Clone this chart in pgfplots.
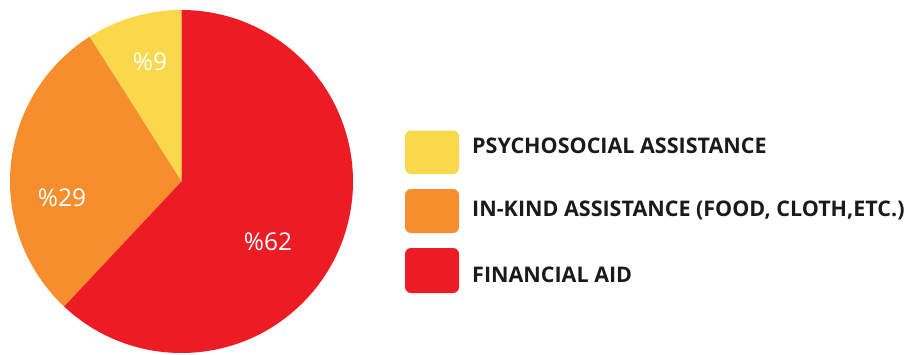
\documentclass[border=0pt]{standalone}
\usepackage{pgfplots}
\pgfplotsset{compat=1.18}
\usepackage{fontspec}
\setmainfont{Open Sans}
\definecolor{cYel}{HTML}{F9D94A}
\definecolor{cOra}{HTML}{F68E2D}
\definecolor{cRed}{HTML}{ED1C24}
\definecolor{cTxt}{HTML}{1A1A1A}
% shares (percent)
\def\vPsy{9}
\def\vKind{29}
\def\vFin{62}
\begin{document}
\begin{tikzpicture}
\useasboundingbox (0,0) rectangle (909pt,354pt);
\begin{axis}[
  at={(0,0)}, anchor=south west,
  width=909pt, height=354pt, scale only axis,
  xmin=0, xmax=909, ymin=0, ymax=354,
  hide axis, clip=false,
]
\pgfmathsetmacro{\aA}{90}
\pgfmathsetmacro{\aB}{90+3.6*\vPsy}
\pgfmathsetmacro{\aC}{\aB+3.6*\vKind}
\pgfmathsetmacro{\aD}{\aC+3.6*\vFin}
\fill[cYel] (axis cs:181.5,172.5) -- ++(\aA:171.5pt) arc[start angle=\aA, end angle=\aB, radius=171.5pt] -- cycle;
\fill[cOra] (axis cs:181.5,172.5) -- ++(\aB:171.5pt) arc[start angle=\aB, end angle=\aC, radius=171.5pt] -- cycle;
\fill[cRed] (axis cs:181.5,172.5) -- ++(\aC:171.5pt) arc[start angle=\aC, end angle=\aD, radius=171.5pt] -- cycle;
\node[white, font=\fontsize{24.5}{26}\selectfont] at (axis cs:150,292) {\%\vPsy};
\node[white, font=\fontsize{24.5}{26}\selectfont] at (axis cs:62,156) {\%\vKind};
\node[white, font=\fontsize{24.5}{26}\selectfont] at (axis cs:268,112) {\%\vFin};
% legend
\fill[cYel, rounded corners=6pt] (axis cs:405,180) rectangle (axis cs:459,223.5);
\fill[cOra, rounded corners=6pt] (axis cs:405,121) rectangle (axis cs:459,165);
\fill[cRed, rounded corners=6pt] (axis cs:405,61) rectangle (axis cs:459,106);
\node[anchor=west, inner sep=0pt, text=cTxt, font=\bfseries\fontsize{21.5}{23}\selectfont] at (axis cs:472,208) {PSYCHOSOCIAL ASSISTANCE};
\node[anchor=west, inner sep=0pt, text=cTxt, font=\bfseries\fontsize{21.5}{23}\selectfont] at (axis cs:472,144) {IN-KIND ASSISTANCE (FOOD, CLOTH,ETC.)};
\node[anchor=west, inner sep=0pt, text=cTxt, font=\bfseries\fontsize{21.5}{23}\selectfont] at (axis cs:472,79.5) {FINANCIAL AID};
\end{axis}
\end{tikzpicture}
\end{document}
